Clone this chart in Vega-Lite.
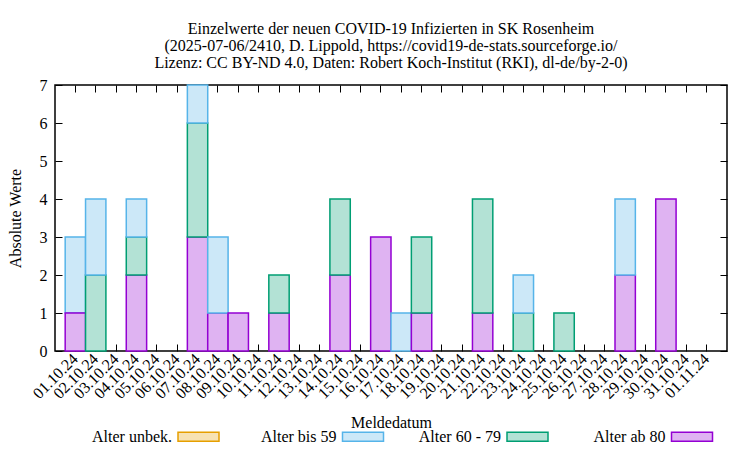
{
  "$schema": "https://vega.github.io/schema/vega-lite/v6.json",
  "width": 672,
  "height": 266,
  "autosize": {"type": "none"},
  "padding": {"left": 55, "top": 85, "right": 23, "bottom": 99},
  "background": "white",
  "config": {
    "font": "Liberation Serif",
    "view": {"stroke": "#000000", "strokeWidth": 1.5},
    "axis": {"labelFont": "Liberation Serif", "titleFont": "Liberation Serif", "labelFontSize": 16, "titleFontSize": 16, "titleFontWeight": "normal", "labelColor": "#000", "titleColor": "#000", "tickColor": "#000", "tickWidth": 1, "domain": false, "grid": false},
    "legend": {"labelFont": "Liberation Serif", "labelFontSize": 16, "labelColor": "#000"}
  },
  "title": {
    "text": ["Einzelwerte der neuen COVID-19 Infizierten in SK Rosenheim", "(2025-07-06/2410, D. Lippold, https://covid19-de-stats.sourceforge.io/", "Lizenz: CC BY-ND 4.0, Daten: Robert Koch-Institut (RKI), dl-de/by-2-0)"],
    "font": "Liberation Serif",
    "fontSize": 16,
    "fontWeight": "normal",
    "color": "#000",
    "anchor": "middle",
    "baseline": "bottom",
    "lineHeight": 17,
    "offset": -10
  },
  "data": {
    "values": [
      {"datum": "01.10.24", "gruppe": "Alter bis 59", "anzahl": 2},
      {"datum": "01.10.24", "gruppe": "Alter ab 80", "anzahl": 1},
      {"datum": "02.10.24", "gruppe": "Alter 60 - 79", "anzahl": 2},
      {"datum": "02.10.24", "gruppe": "Alter bis 59", "anzahl": 2},
      {"datum": "04.10.24", "gruppe": "Alter ab 80", "anzahl": 2},
      {"datum": "04.10.24", "gruppe": "Alter 60 - 79", "anzahl": 1},
      {"datum": "04.10.24", "gruppe": "Alter bis 59", "anzahl": 1},
      {"datum": "07.10.24", "gruppe": "Alter ab 80", "anzahl": 3},
      {"datum": "07.10.24", "gruppe": "Alter 60 - 79", "anzahl": 3},
      {"datum": "07.10.24", "gruppe": "Alter bis 59", "anzahl": 1},
      {"datum": "08.10.24", "gruppe": "Alter ab 80", "anzahl": 1},
      {"datum": "08.10.24", "gruppe": "Alter bis 59", "anzahl": 2},
      {"datum": "09.10.24", "gruppe": "Alter ab 80", "anzahl": 1},
      {"datum": "11.10.24", "gruppe": "Alter ab 80", "anzahl": 1},
      {"datum": "11.10.24", "gruppe": "Alter 60 - 79", "anzahl": 1},
      {"datum": "14.10.24", "gruppe": "Alter ab 80", "anzahl": 2},
      {"datum": "14.10.24", "gruppe": "Alter 60 - 79", "anzahl": 2},
      {"datum": "16.10.24", "gruppe": "Alter ab 80", "anzahl": 3},
      {"datum": "17.10.24", "gruppe": "Alter bis 59", "anzahl": 1},
      {"datum": "18.10.24", "gruppe": "Alter ab 80", "anzahl": 1},
      {"datum": "18.10.24", "gruppe": "Alter 60 - 79", "anzahl": 2},
      {"datum": "21.10.24", "gruppe": "Alter ab 80", "anzahl": 1},
      {"datum": "21.10.24", "gruppe": "Alter 60 - 79", "anzahl": 3},
      {"datum": "23.10.24", "gruppe": "Alter 60 - 79", "anzahl": 1},
      {"datum": "23.10.24", "gruppe": "Alter bis 59", "anzahl": 1},
      {"datum": "25.10.24", "gruppe": "Alter 60 - 79", "anzahl": 1},
      {"datum": "28.10.24", "gruppe": "Alter ab 80", "anzahl": 2},
      {"datum": "28.10.24", "gruppe": "Alter bis 59", "anzahl": 2},
      {"datum": "30.10.24", "gruppe": "Alter ab 80", "anzahl": 4}
    ]
  },
  "transform": [
    {"calculate": "indexof(['Alter ab 80', 'Alter 60 - 79', 'Alter bis 59', 'Alter unbek.'], datum.gruppe)", "as": "stapelfolge"}
  ],
  "layer": [
    {
      "mark": {"type": "bar", "strokeWidth": 1.5, "opacity": 1},
      "encoding": {
        "x": {
          "field": "datum", "type": "nominal",
          "scale": {"domain": ["01.10.24","02.10.24","03.10.24","04.10.24","05.10.24","06.10.24","07.10.24","08.10.24","09.10.24","10.10.24","11.10.24","12.10.24","13.10.24","14.10.24","15.10.24","16.10.24","17.10.24","18.10.24","19.10.24","20.10.24","21.10.24","22.10.24","23.10.24","24.10.24","25.10.24","26.10.24","27.10.24","28.10.24","29.10.24","30.10.24","31.10.24","01.11.24"], "paddingInner": 0, "paddingOuter": 0.5},
          "axis": {"orient": "bottom", "title": "Meldedatum", "labelAngle": -45, "labelAlign": "right", "labelBaseline": "middle", "tickSize": -7, "labelPadding": 12, "titleY": 71, "titleBaseline": "middle"}
        },
        "y": {
          "field": "anzahl", "type": "quantitative", "aggregate": "sum", "stack": "zero",
          "scale": {"domain": [0, 7], "nice": false},
          "axis": {"orient": "left", "title": "Absolute Werte", "values": [0,1,2,3,4,5,6,7], "format": "d", "tickSize": -7, "labelPadding": 15, "titleX": -40, "titleBaseline": "middle"}
        },
        "order": {"field": "stapelfolge", "type": "quantitative", "sort": "ascending"},
        "fill": {
          "field": "gruppe", "type": "nominal",
          "scale": {"domain": ["Alter unbek.", "Alter bis 59", "Alter 60 - 79", "Alter ab 80"], "range": ["#F7E2B3", "#CCE8F8", "#B3E2D5", "#DFB3F2"]},
          "legend": {"title": null, "orient": "none", "legendX": 122, "legendY": 330, "direction": "horizontal", "columns": 4, "columnPadding": 31.5, "gridAlign": "all", "padding": 0, "symbolType": "M-1,-0.22H1V0.22H-1Z", "symbolSize": 1681, "symbolStrokeWidth": 1.5, "labelAlign": "right", "labelOffset": -48, "labelBaseline": "middle"}
        },
        "stroke": {
          "field": "gruppe", "type": "nominal",
          "scale": {"domain": ["Alter unbek.", "Alter bis 59", "Alter 60 - 79", "Alter ab 80"], "range": ["#E69F00", "#56B4E9", "#009E73", "#9400D3"]},
          "legend": {"title": null, "orient": "none", "legendX": 122, "legendY": 330, "direction": "horizontal", "columns": 4, "columnPadding": 31.5, "gridAlign": "all", "padding": 0, "symbolType": "M-1,-0.22H1V0.22H-1Z", "symbolSize": 1681, "symbolStrokeWidth": 1.5, "labelAlign": "right", "labelOffset": -48, "labelBaseline": "middle"}
        }
      }
    },
    {
      "mark": {"type": "bar", "opacity": 0},
      "encoding": {
        "x": {"field": "datum", "type": "nominal", "axis": {"orient": "top", "labels": false, "title": null, "tickSize": -7}},
        "y": {"field": "anzahl", "type": "quantitative", "aggregate": "sum", "axis": {"orient": "right", "labels": false, "title": null, "values": [0,1,2,3,4,5,6,7], "tickSize": -7}}
      }
    }
  ],
  "resolve": {"axis": {"x": "independent", "y": "independent"}}
}
